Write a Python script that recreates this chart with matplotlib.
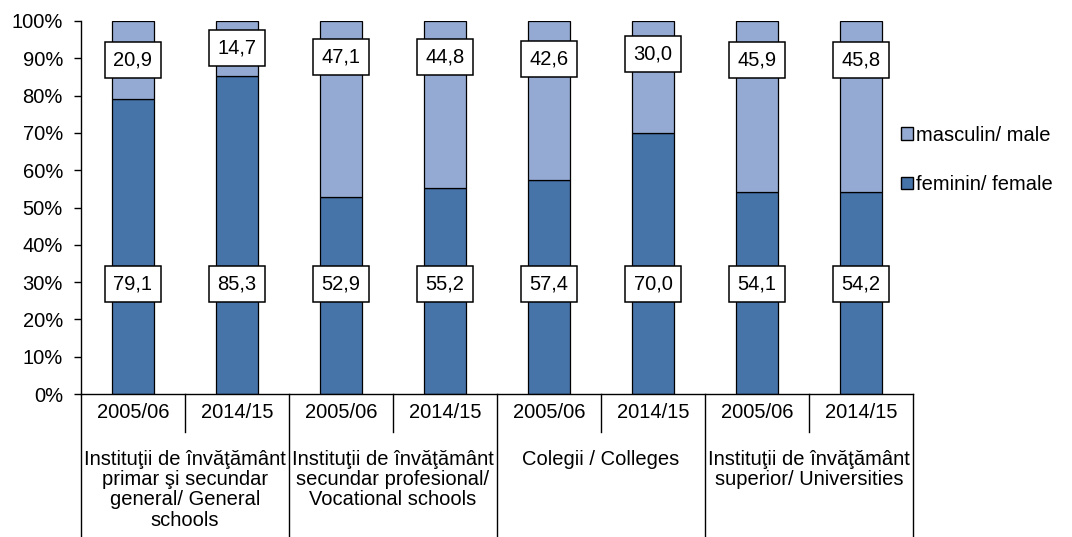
import matplotlib.pyplot as plt
from matplotlib.patches import Patch
from matplotlib.transforms import blended_transform_factory

plt.rcParams['font.family'] = ['Liberation Sans', 'DejaVu Sans']

# Date
years = ["2005/06", "2014/15"] * 4
groups = [
    "Instituţii de învăţământ\nprimar şi secundar\ngeneral/ General\nschools",
    "Instituţii de învăţământ\nsecundar profesional/\nVocational schools",
    "Colegii / Colleges",
    "Instituţii de învăţământ\nsuperior/ Universities",
]
feminin = [79.1, 85.3, 52.9, 55.2, 57.4, 70.0, 54.1, 54.2]
masculin = [20.9, 14.7, 47.1, 44.8, 42.6, 30.0, 45.9, 45.8]

# unde stau etichetele (in %)
label_y_male = [89.5, 92.8, 90.3, 90.3, 89.8, 91.2, 89.5, 89.5]
label_y_female = 29.5

W, H = 1072, 537
C_FEM = "#4673A8"
C_MASC = "#95AAD2"
FS = 14.5

fig = plt.figure(figsize=(W / 100, H / 100), dpi=100)
ax = fig.add_axes([81 / W, 1 - 394 / H, (913 - 81) / W, (394 - 21) / H])

x = list(range(len(years)))
ax.bar(x, feminin, width=0.4, color=C_FEM, edgecolor="black", linewidth=0.9)
ax.bar(x, masculin, width=0.4, bottom=feminin, color=C_MASC,
       edgecolor="black", linewidth=0.9)

box = dict(boxstyle="square,pad=0.42", facecolor="white", edgecolor="black", linewidth=1.1)
for i in x:
    ax.text(i, label_y_male[i], f"{masculin[i]:.1f}".replace(".", ","),
            ha="center", va="center", fontsize=FS, bbox=box, zorder=5)
    ax.text(i, label_y_female, f"{feminin[i]:.1f}".replace(".", ","),
            ha="center", va="center", fontsize=FS, bbox=box, zorder=5)

ax.set_xlim(-0.5, len(years) - 0.5)
ax.set_ylim(0, 100)
ax.set_yticks(range(0, 101, 10))
ax.set_yticklabels([f"{v}%" for v in range(0, 101, 10)], fontsize=FS)
ax.tick_params(axis="y", length=5, width=1, pad=8)
ax.set_xticks([])
for s in ["top", "right"]:
    ax.spines[s].set_visible(False)
ax.spines["left"].set_linewidth(1)
ax.spines["bottom"].set_linewidth(1)

# axa x pe doua niveluri
tr = blended_transform_factory(ax.transData, fig.transFigure)
def fy(p):
    return 1 - p / H

for k in range(len(years) + 1):
    xx = k - 0.5
    low = 537 if k % 2 == 0 else 432
    ax.plot([xx, xx], [fy(394), fy(low)], transform=tr, color="black",
            linewidth=1, clip_on=False)
for i in x:
    ax.text(i, fy(413), years[i], transform=tr, ha="center", va="center", fontsize=FS)
for g, name in enumerate(groups):
    ax.text(2 * g + 0.5, fy(450), name, transform=tr, ha="center", va="top",
            fontsize=FS, linespacing=1.08)

handles = [Patch(facecolor=C_MASC, edgecolor="black", label="masculin/ male"),
           Patch(facecolor=C_FEM, edgecolor="black", label="feminin/ female")]
fig.legend(handles=handles, loc="center left", bbox_to_anchor=(883 / W, fy(160)),
           frameon=False, fontsize=FS, handlelength=0.6, handleheight=0.6,
           handletextpad=0.15, labelspacing=1.5)

fig.savefig("out.png", dpi=100)
